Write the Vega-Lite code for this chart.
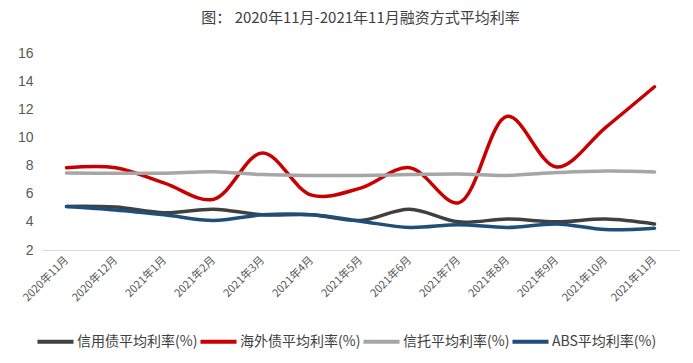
{
  "$schema": "https://vega.github.io/schema/vega-lite/v6.json",
  "width": 637,
  "height": 197,
  "autosize": "none",
  "padding": {"left": 42, "top": 53, "right": 14, "bottom": 113},
  "background": "white",
  "title": {
    "text": "图：  2020年11月-2021年11月融资方式平均利率",
    "anchor": "middle",
    "frame": "group",
    "font": "Noto Sans CJK SC",
    "fontSize": 15,
    "fontWeight": "normal",
    "color": "#404040",
    "offset": 20
  },
  "config": {
    "view": {"stroke": null},
    "font": "Noto Sans CJK SC"
  },
  "datasets": {
    "rates": [
      {"month": "2020年11月", "series": "信用债平均利率(%)", "value": 5.1},
      {"month": "2020年12月", "series": "信用债平均利率(%)", "value": 5.05},
      {"month": "2021年1月", "series": "信用债平均利率(%)", "value": 4.65},
      {"month": "2021年2月", "series": "信用债平均利率(%)", "value": 4.9},
      {"month": "2021年3月", "series": "信用债平均利率(%)", "value": 4.5},
      {"month": "2021年4月", "series": "信用债平均利率(%)", "value": 4.5},
      {"month": "2021年5月", "series": "信用债平均利率(%)", "value": 4.1},
      {"month": "2021年6月", "series": "信用债平均利率(%)", "value": 4.9},
      {"month": "2021年7月", "series": "信用债平均利率(%)", "value": 4.0},
      {"month": "2021年8月", "series": "信用债平均利率(%)", "value": 4.2},
      {"month": "2021年9月", "series": "信用债平均利率(%)", "value": 4.0},
      {"month": "2021年10月", "series": "信用债平均利率(%)", "value": 4.2},
      {"month": "2021年11月", "series": "信用债平均利率(%)", "value": 3.85},

      {"month": "2020年11月", "series": "海外债平均利率(%)", "value": 7.85},
      {"month": "2020年12月", "series": "海外债平均利率(%)", "value": 7.85},
      {"month": "2021年1月", "series": "海外债平均利率(%)", "value": 6.75},
      {"month": "2021年2月", "series": "海外债平均利率(%)", "value": 5.6},
      {"month": "2021年3月", "series": "海外债平均利率(%)", "value": 8.9},
      {"month": "2021年4月", "series": "海外债平均利率(%)", "value": 5.9},
      {"month": "2021年5月", "series": "海外债平均利率(%)", "value": 6.4},
      {"month": "2021年6月", "series": "海外债平均利率(%)", "value": 7.85},
      {"month": "2021年7月", "series": "海外债平均利率(%)", "value": 5.35},
      {"month": "2021年8月", "series": "海外债平均利率(%)", "value": 11.5},
      {"month": "2021年9月", "series": "海外债平均利率(%)", "value": 7.9},
      {"month": "2021年10月", "series": "海外债平均利率(%)", "value": 10.7},
      {"month": "2021年11月", "series": "海外债平均利率(%)", "value": 13.6},

      {"month": "2020年11月", "series": "信托平均利率(%)", "value": 7.48},
      {"month": "2020年12月", "series": "信托平均利率(%)", "value": 7.45},
      {"month": "2021年1月", "series": "信托平均利率(%)", "value": 7.46},
      {"month": "2021年2月", "series": "信托平均利率(%)", "value": 7.56},
      {"month": "2021年3月", "series": "信托平均利率(%)", "value": 7.36},
      {"month": "2021年4月", "series": "信托平均利率(%)", "value": 7.3},
      {"month": "2021年5月", "series": "信托平均利率(%)", "value": 7.3},
      {"month": "2021年6月", "series": "信托平均利率(%)", "value": 7.36},
      {"month": "2021年7月", "series": "信托平均利率(%)", "value": 7.4},
      {"month": "2021年8月", "series": "信托平均利率(%)", "value": 7.3},
      {"month": "2021年9月", "series": "信托平均利率(%)", "value": 7.5},
      {"month": "2021年10月", "series": "信托平均利率(%)", "value": 7.62},
      {"month": "2021年11月", "series": "信托平均利率(%)", "value": 7.55},

      {"month": "2020年11月", "series": "ABS平均利率(%)", "value": 5.1},
      {"month": "2020年12月", "series": "ABS平均利率(%)", "value": 4.85},
      {"month": "2021年1月", "series": "ABS平均利率(%)", "value": 4.5},
      {"month": "2021年2月", "series": "ABS平均利率(%)", "value": 4.1},
      {"month": "2021年3月", "series": "ABS平均利率(%)", "value": 4.5},
      {"month": "2021年4月", "series": "ABS平均利率(%)", "value": 4.5},
      {"month": "2021年5月", "series": "ABS平均利率(%)", "value": 4.05},
      {"month": "2021年6月", "series": "ABS平均利率(%)", "value": 3.6},
      {"month": "2021年7月", "series": "ABS平均利率(%)", "value": 3.8},
      {"month": "2021年8月", "series": "ABS平均利率(%)", "value": 3.6},
      {"month": "2021年9月", "series": "ABS平均利率(%)", "value": 3.85},
      {"month": "2021年10月", "series": "ABS平均利率(%)", "value": 3.45},
      {"month": "2021年11月", "series": "ABS平均利率(%)", "value": 3.55}
    ]
  },
  "data": {"name": "rates"},
  "mark": {"type": "line", "interpolate": "catmull-rom", "strokeWidth": 3.5, "strokeCap": "round"},
  "encoding": {
    "x": {
      "field": "month",
      "type": "ordinal",
      "sort": null,
      "scale": {"type": "point", "padding": 0.5},
      "axis": {
        "title": null,
        "labelAngle": -45,
        "labelAlign": "right",
        "labelBaseline": "middle",
        "labelFontSize": 11,
        "labelColor": "#595959",
        "labelPadding": 8,
        "ticks": false,
        "domainColor": "#D9D9D9",
        "domainWidth": 1,
        "grid": false
      }
    },
    "y": {
      "field": "value",
      "type": "quantitative",
      "scale": {"domain": [2, 16], "nice": false, "zero": false},
      "axis": {
        "title": null,
        "values": [2, 4, 6, 8, 10, 12, 14, 16],
        "domain": false,
        "ticks": false,
        "grid": false,
        "labelFontSize": 14,
        "labelColor": "#595959",
        "labelPadding": 9,
        "labelFont": "Liberation Sans"
      }
    },
    "color": {
      "field": "series",
      "type": "nominal",
      "scale": {
        "domain": ["信用债平均利率(%)", "海外债平均利率(%)", "信托平均利率(%)", "ABS平均利率(%)"],
        "range": ["#404040", "#C80000", "#A6A6A6", "#1F4E79"]
      },
      "legend": {
        "title": null,
        "orient": "none",
        "direction": "horizontal",
        "legendX": -7,
        "legendY": 268,
        "symbolType": "stroke",
        "symbolSize": 1300,
        "symbolStrokeWidth": 4,
        "labelFontSize": 14,
        "labelColor": "#404040",
        "labelOffset": 1,
        "columnPadding": -6,
        "labelLimit": 300
      }
    }
  }
}
